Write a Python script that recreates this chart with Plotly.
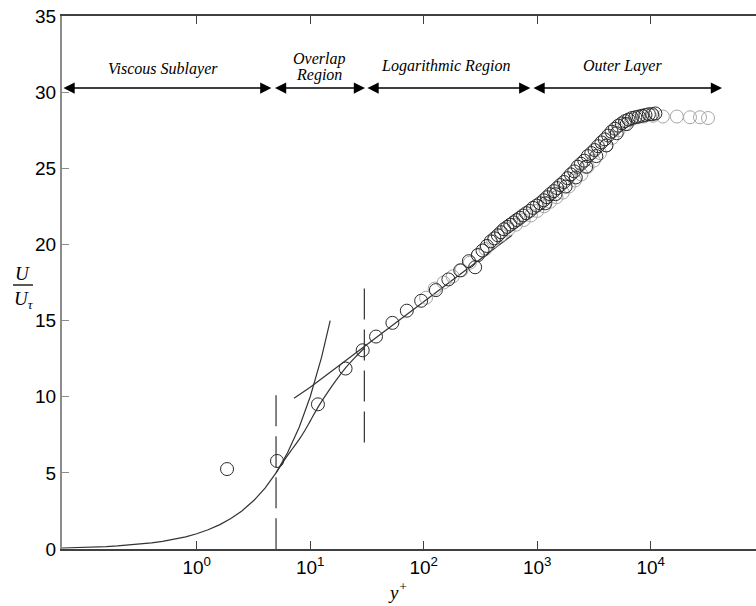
import math
import plotly.graph_objects as go

# ---------------- data ----------------
# dark (black) open circles: y+ and U/U_tau
yp_dark = [1.85, 5.1, 11.7, 20.5, 29, 38, 53, 71, 95, 128, 165, 210, 250, 284, 300,
           330, 360, 390, 420, 450, 480, 510, 545, 580, 620, 660, 705, 750, 800, 860,
           920, 990, 1060, 1140, 1220, 1300, 1400, 1500, 1600, 1720, 1850, 1980, 2120,
           2270, 2430, 2600, 2790, 3000, 3200, 3430, 3680, 3940, 4220, 4520, 4840, 5190,
           5560, 5950, 6380, 6840, 7330, 7850, 8400, 9000, 9650, 10300, 11000,
           1180, 1450, 1780, 2190, 2700, 3320, 4080, 5020, 6150]
u_dark = [5.25, 5.78, 9.5, 11.85, 13.05, 13.95, 14.85, 15.65, 16.3, 17.0, 17.7, 18.3, 18.9, 18.5, 19.3,
          19.6, 19.9, 20.2, 20.4, 20.6, 20.8, 21.0, 21.15, 21.3, 21.45, 21.6, 21.75, 21.9, 22.05, 22.2,
          22.4, 22.55, 22.7, 22.9, 23.1, 23.3, 23.5, 23.7, 23.9, 24.1, 24.35, 24.6, 24.8,
          25.1, 25.3, 25.5, 25.8, 26.0, 26.2, 26.45, 26.7, 26.9, 27.15, 27.4, 27.6, 27.8,
          27.95, 28.1, 28.2, 28.3, 28.35, 28.4, 28.45, 28.5, 28.55, 28.55, 28.6,
          22.7, 23.3, 23.8, 24.4, 25.1, 25.8, 26.5, 27.3, 27.9]

# grey open circles
yp_grey = [105, 125, 150, 180, 215, 255, 300, 350, 410, 480, 560, 650, 760, 880, 1000,
           1150, 1300, 1480, 1680, 1900, 2150, 2450, 2780, 3150, 3580, 4060, 4600, 5220,
           5920, 6720, 7620, 8650, 10500, 12800, 17000, 22200, 27200, 32000]
u_grey = [16.5, 17.1, 17.5, 17.9, 18.3, 18.8, 19.3, 19.7, 20.2, 20.6, 21.0, 21.3, 21.6, 21.9, 22.2,
          22.5, 22.8, 23.1, 23.4, 23.8, 24.2, 24.6, 25.1, 25.5, 26.0, 26.5, 27.0, 27.5,
          27.9, 28.2, 28.35, 28.4, 28.45, 28.4, 28.4, 28.35, 28.35, 28.3]

# viscous sublayer law U+ = y+
yp_visc = [0.065, 0.08, 0.1, 0.13, 0.16, 0.2, 0.25, 0.32, 0.4, 0.5, 0.63, 0.8, 1.0, 1.26,
           1.6, 2.0, 2.5, 3.2, 4.0, 5.0, 6.3, 8.0, 10.0, 12.6, 15.0]
u_visc = [0.065, 0.08, 0.1, 0.13, 0.16, 0.2, 0.25, 0.32, 0.4, 0.5, 0.63, 0.8, 1.0, 1.26,
          1.6, 2.0, 2.5, 3.2, 4.0, 5.0, 6.3, 8.0, 10.0, 12.6, 15.0]

# logarithmic law
yp_log = [7.2, 10, 15, 20, 30, 50, 100, 200, 400, 600]
u_log = [9.9, 10.62, 11.6, 12.31, 13.3, 14.54, 16.23, 17.92, 19.61, 20.6]

# buffer-layer curve
yp_buf = [5.0, 6.0, 7.0, 8.0, 9.0, 10.0, 11.7, 14.0, 17.0, 20.0, 25.0, 30.0]
u_buf = [5.0, 5.9, 6.6, 7.2, 7.8, 8.4, 9.3, 10.2, 11.1, 11.8, 12.6, 13.2]

# dashed region boundaries
dash_yp = [5, 30]
dash_lo = [0.0, 7.0]
dash_hi = [10.1, 17.1]

# region arrows and labels
region_start = [0.065, 4.75, 31, 900]
region_end = [4.55, 30.4, 870, 42500]
arrow_u = 30.27
label_text = ["Viscous Sublayer", "Overlap", "Region", "Logarithmic Region", "Outer Layer"]
label_yp = [0.5, 12, 12, 157, 5590]
label_u = [31.5, 32.15, 31.1, 31.7, 31.7]

x_tickvals = [1, 10, 100, 1000, 10000]
x_ticktext = ["10<sup>0</sup>", "10<sup>1</sup>", "10<sup>2</sup>", "10<sup>3</sup>", "10<sup>4</sup>"]
y_tickvals = [0, 5, 10, 15, 20, 25, 30, 35]

# ---------------- figure ----------------
LINE = "#333333"
fig = go.Figure()

fig.add_trace(go.Scatter(x=yp_visc, y=u_visc, mode="lines",
                         line=dict(color=LINE, width=1.2), showlegend=False))
fig.add_trace(go.Scatter(x=yp_buf, y=u_buf, mode="lines", line_shape="spline",
                         line=dict(color=LINE, width=1.2), showlegend=False))
fig.add_trace(go.Scatter(x=yp_log, y=u_log, mode="lines",
                         line=dict(color=LINE, width=1.2), showlegend=False))
for xv, lo, hi in zip(dash_yp, dash_lo, dash_hi):
    fig.add_trace(go.Scatter(x=[xv, xv], y=[hi, lo], mode="lines",
                             line=dict(color=LINE, width=1.2, dash="31px,10px"),
                             showlegend=False))

fig.add_trace(go.Scatter(x=yp_grey, y=u_grey, mode="markers",
                         marker=dict(symbol="circle-open", size=13,
                                     color="#a6a6a6", line=dict(width=1)),
                         showlegend=False))
fig.add_trace(go.Scatter(x=yp_dark, y=u_dark, mode="markers",
                         marker=dict(symbol="circle-open", size=13,
                                     color="#2a2a2a", line=dict(width=1)),
                         showlegend=False))

annotations = []
for s, e in zip(region_start, region_end):
    annotations.append(dict(
        x=math.log10(e), y=arrow_u, ax=math.log10(s), ay=arrow_u,
        xref="x", yref="y", axref="x", ayref="y", text="", showarrow=True,
        arrowside="end+start", arrowhead=2, startarrowhead=2,
        arrowsize=1.4, startarrowsize=1.4, arrowwidth=1.6, arrowcolor="black",
        standoff=0, startstandoff=0))
for t, xv, yv in zip(label_text, label_yp, label_u):
    annotations.append(dict(
        x=math.log10(xv), y=yv, xref="x", yref="y", text=t, showarrow=False,
        xanchor="center", yanchor="middle",
        font=dict(family="Liberation Serif", size=16, color="black", style="italic")))

# axis titles
annotations.append(dict(x=0.484, y=-0.078, xref="paper", yref="paper",
                        text="y<sup>+</sup>", showarrow=False,
                        xanchor="center", yanchor="middle",
                        font=dict(family="Liberation Serif", size=19, color="black", style="italic")))
annotations.append(dict(x=-0.0576, y=0.516, xref="paper", yref="paper",
                        text="U", showarrow=False, xanchor="center", yanchor="middle",
                        font=dict(family="Liberation Serif", size=19, color="black", style="italic")))
annotations.append(dict(x=-0.055, y=0.468, xref="paper", yref="paper",
                        text="U<sub>τ</sub>", showarrow=False, xanchor="center", yanchor="middle",
                        font=dict(family="Liberation Serif", size=19, color="black", style="italic")))

shapes = [dict(type="line", xref="paper", yref="paper",
               x0=-0.0706, x1=-0.0418, y0=0.4953, y1=0.4953,
               line=dict(color="black", width=1.3))]

fig.update_layout(
    width=756, height=606,
    margin=dict(l=62, r=0, t=16, b=57),
    paper_bgcolor="white", plot_bgcolor="white",
    annotations=annotations, shapes=shapes,
    font=dict(family="Liberation Sans", size=19, color="black"),
)
fig.update_xaxes(type="log", range=[-1.187, 4.928], tickvals=x_tickvals, ticktext=x_ticktext,
                 ticks="inside", ticklen=8, tickcolor="#404040", tickwidth=1,
                 showline=True, linecolor="#404040", linewidth=1.5, mirror="ticks",
                 showgrid=False, zeroline=False, automargin=False,
                 tickfont=dict(family="Liberation Sans", size=19, color="black"))
fig.update_yaxes(range=[0, 35], tickvals=y_tickvals,
                 ticks="inside", ticklen=7, tickcolor="#8c8c8c", tickwidth=1,
                 showline=True, linecolor="#8c8c8c", linewidth=2, mirror=False,
                 showgrid=False, zeroline=False, automargin=False,
                 tickfont=dict(family="Liberation Sans", size=19, color="black"))

fig.write_html("out.html")
